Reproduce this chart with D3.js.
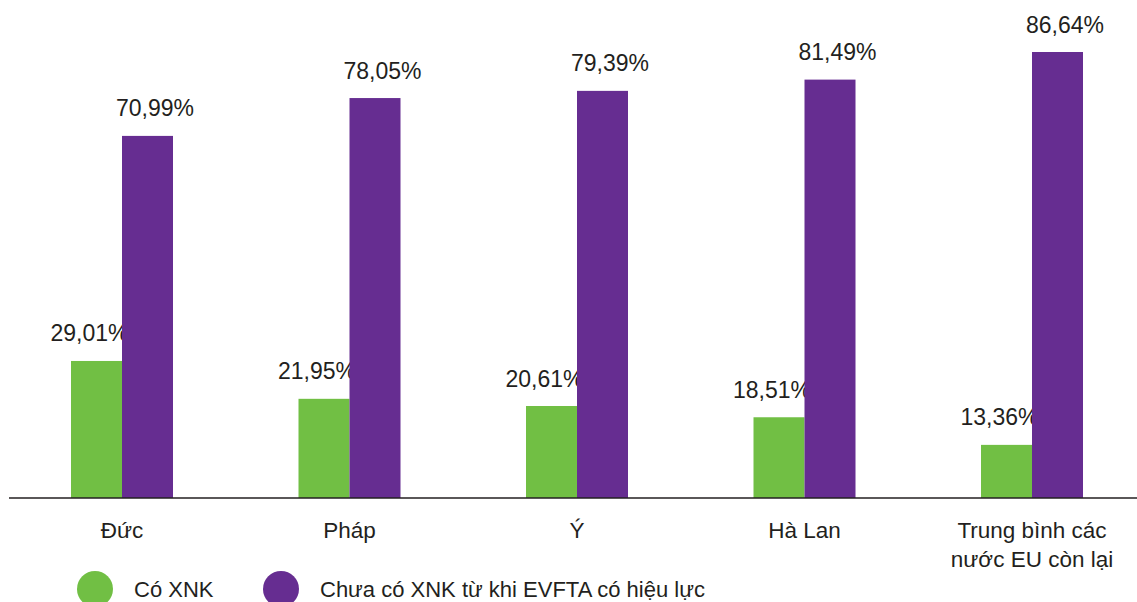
<!DOCTYPE html>
<html lang="vi">
<head>
<meta charset="utf-8">
<script src="https://cdn.jsdelivr.net/npm/d3@7"></script>
<style>
  html, body { margin: 0; padding: 0; background: #fff; }
  svg { display: block; }
  text { font-family: "Liberation Sans", Arial, sans-serif; fill: #231f20; }
</style>
</head>
<body>
<svg id="chart" width="1137" height="602"></svg>
<script>
// Share of enterprises by EU market (%)
const categories = ["Đức", "Pháp", "Ý", "Hà Lan", "Trung bình các\nnước EU còn lại"];
const seriesNames = ["Có XNK", "Chưa có XNK từ khi EVFTA có hiệu lực"];
const coXNK = [29.01, 21.95, 20.61, 18.51, 13.36];
const chuaCoXNK = [70.99, 78.05, 79.39, 81.49, 86.64];
const colors = ["#71bf44", "#662d91"];

const W = 1137, H = 602;
const axisY = 498;
const svg = d3.select("#chart");

const series = [coXNK, chuaCoXNK];

// value axis starts slightly above zero, with the baseline at axisY
const y = d3.scaleLinear().domain([3.45, 86.64]).range([axisY, 52]);

const x = d3.scaleBand().domain(categories).range([8.25, 1145.75]).padding(0);
const barW = 51;
const inner = d3.scaleBand().domain([0, 1]).range([0, barW * 2]).padding(0);
const groupLeft = c => x(c) + x.bandwidth() / 2 - barW;

const fmt = v => d3.format(".2f")(v).replace(".", ",") + "%";
const labelDx = [-7, 7.5];

series.forEach((vals, si) => {
  const g = svg.append("g");
  g.selectAll("rect").data(vals).join("rect")
    .attr("x", (d, i) => groupLeft(categories[i]) + inner(si))
    .attr("y", d => y(d))
    .attr("width", inner.bandwidth())
    .attr("height", d => axisY - y(d))
    .attr("fill", colors[si]);
  g.selectAll("text").data(vals).join("text")
    .attr("x", (d, i) => groupLeft(categories[i]) + inner(si) + inner.bandwidth() / 2 + labelDx[si])
    .attr("y", d => y(d) - 19.5)
    .attr("text-anchor", "middle")
    .attr("font-size", 23)
    .text(fmt);
});

// baseline
svg.append("line")
  .attr("x1", 9).attr("x2", W).attr("y1", axisY).attr("y2", axisY)
  .attr("stroke", "#231f20").attr("stroke-width", 1.5);

// category labels
const cat = svg.append("g");
categories.forEach(c => {
  const t = cat.append("text")
    .attr("x", x(c) + x.bandwidth() / 2)
    .attr("y", 538)
    .attr("text-anchor", "middle")
    .attr("font-size", 22.5);
  c.split("\n").forEach((line, k) => {
    t.append("tspan").attr("x", x(c) + x.bandwidth() / 2).attr("dy", k ? 29 : 0).text(line);
  });
});

// legend
const legendX = [95, 281];
const legend = svg.append("g");
seriesNames.forEach((name, i) => {
  legend.append("circle").attr("cx", legendX[i]).attr("cy", 589).attr("r", 18).attr("fill", colors[i]);
  legend.append("text").attr("x", legendX[i] + 39).attr("y", 597)
    .attr("font-size", 22).text(name);
});
</script>
</body>
</html>
